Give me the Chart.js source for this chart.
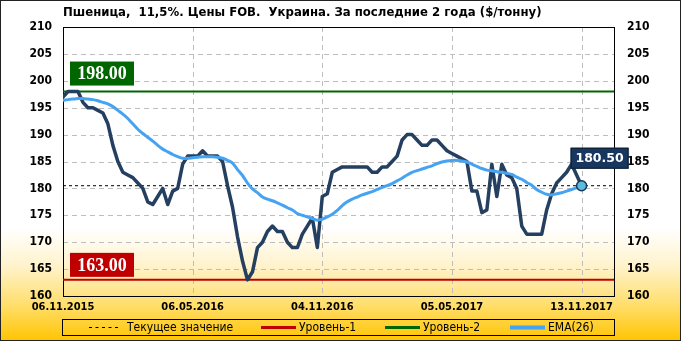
<!DOCTYPE html>
<html><head><meta charset="utf-8">
<script src="https://cdn.jsdelivr.net/npm/chart.js@4.4.1/dist/chart.umd.min.js"></script>
<style>html,body{margin:0;padding:0;background:#fff}#wrap{width:681px;height:341px;position:relative}canvas{display:block}</style>
</head><body><div id="wrap"><canvas id="c" width="681" height="341"></canvas></div>
<script>
const titleText = 'Пшеница,  11,5%. Цены FOB.  Украина. За последние 2 года ($/тонну)';
const dateLabels = ['06.11.2015', '06.05.2016', '04.11.2016', '05.05.2017', '13.11.2017'];
const dateLabelIndex = [0, 26, 52, 78, 104];
const price = [
  197, 198, 198, 198, 196, 195, 195, 194.5, 194, 192,
  188, 185, 183, 182.5, 182, 181, 180, 177.5, 177, 178.5,
  180, 177, 179.5, 180, 184.5, 186, 186, 186, 187, 186,
  186, 186, 185, 180.5, 176.5, 171, 166.5, 163, 164.5, 169,
  170, 172, 173, 172, 172, 170, 169, 169, 171.5, 173,
  174.5, 169, 178.5, 179, 183, 183.5, 184, 184, 184, 184,
  184, 184, 183, 183, 184, 184, 185, 186, 189, 190,
  190, 189, 188, 188, 189, 189, 188, 187, 186.5, 186,
  185.5, 185, 179.5, 179.5, 175.5, 176, 184.5, 178.5, 184.5, 182.5,
  182, 180, 173, 171.5, 171.5, 171.5, 171.5, 176, 179, 181,
  182, 183, 184.5, 182.5, 180.5
];
const ema26 = [
  196.4, 196.5, 196.6, 196.7, 196.7, 196.6, 196.5, 196.3, 196.0, 195.7,
  195.2, 194.5, 193.8, 193.0, 192.0, 191.0, 190.2, 189.5, 188.8, 188.0,
  187.3, 186.8, 186.3, 185.9, 185.6, 185.6, 185.7, 185.8, 185.9, 185.9,
  185.9, 185.8, 185.6, 185.2, 184.7, 183.5, 182.4, 181.0, 179.9, 179.2,
  178.4, 178.0, 177.7, 177.3, 176.9, 176.4, 176.0, 175.3, 175.0, 174.7,
  174.4, 174.1, 174.3, 174.7, 175.2, 175.9, 176.8, 177.5, 178.0, 178.4,
  178.8, 179.1, 179.4, 179.8, 180.2, 180.5, 180.9, 181.4, 181.9, 182.5,
  183.0, 183.3, 183.6, 183.9, 184.2, 184.6, 184.9, 185.1, 185.2, 185.2,
  185.1, 184.9, 184.5, 184.1, 183.7, 183.4, 183.3, 183.1, 183.0, 182.8,
  182.6, 182.1, 181.7, 181.1, 180.6, 179.8, 179.3, 178.9, 178.8, 179.0,
  179.2, 179.5, 179.8, 180.1, 180.4
];
const currentValue = 180.5;
const level1 = 163;
const level2 = 198;
const yMin = 160, yMax = 210, yStep = 5;
const xMaxSlot = 110.5;
const legendLabels = ['Текущее значение', 'Уровень-1', 'Уровень-2', 'EMA(26)'];

const C_PRICE = '#243F60', C_EMA = '#45A3F2', C_RED = '#C00000', C_GREEN = '#006600';
const FONT = '"DejaVu Sans Condensed", "DejaVu Sans", sans-serif';

const pricePts = price.map((v, i) => ({x: i, y: v}));
const emaPts = ema26.map((v, i) => ({x: i, y: v}));
const flat = v => [{x: 0, y: v}, {x: xMaxSlot, y: v}];
const lastIdx = price.length - 1;

const bgPlugin = {
  id: 'bg',
  beforeDraw(chart) {
    const {ctx, width, height} = chart;
    ctx.save();
    const g = ctx.createLinearGradient(0, 0, 0, height);
    g.addColorStop(0, '#FFFFFF');
    g.addColorStop(0.67, '#FFFFFF');
    g.addColorStop(0.78, '#FFF3CC');
    g.addColorStop(0.9, '#FFDD66');
    g.addColorStop(1, '#FFC400');
    ctx.fillStyle = g;
    ctx.fillRect(0, 0, width, height);
    ctx.strokeStyle = '#222';
    ctx.lineWidth = 1;
    ctx.strokeRect(0.5, 0.5, width - 1, height - 1);
    ctx.restore();
  },
  beforeDatasetsDraw(chart) {
    const {ctx, chartArea: a, scales} = chart;
    ctx.save();
    // dashed grid from the library's scale ticks
    ctx.strokeStyle = '#BDBDBD';
    ctx.lineWidth = 1;
    ctx.setLineDash([5, 4]);
    scales.y.ticks.forEach(t => {
      const py = Math.round(scales.y.getPixelForValue(t.value)) + 0.5;
      ctx.beginPath(); ctx.moveTo(a.left, py); ctx.lineTo(a.right, py); ctx.stroke();
    });
    scales.x.ticks.forEach(t => {
      const px = Math.round(scales.x.getPixelForValue(t.value)) + 0.5;
      ctx.beginPath(); ctx.moveTo(px, a.top); ctx.lineTo(px, a.bottom); ctx.stroke();
    });
    ctx.setLineDash([]);
    ctx.strokeStyle = '#000';
    ctx.strokeRect(Math.round(a.left) + 0.5, Math.round(a.top) + 0.5, Math.round(a.right - a.left), Math.round(a.bottom - a.top));
    ctx.restore();
  },
  afterDatasetsDraw(chart) {
    const {ctx, chartArea: a, scales} = chart;
    const ys = scales.y, xs = scales.x;
    ctx.save();
    const box = (val, fill, off) => {
      const py = ys.getPixelForValue(val);
      ctx.font = 'bold 18px "Liberation Serif", serif';
      const t = val.toFixed(2);
      const w = 64, h = 24;
      const bx = a.left + 7, by = py - off - h;
      ctx.fillStyle = fill;
      ctx.fillRect(bx, by, w, h);
      ctx.fillStyle = '#fff';
      ctx.textAlign = 'center';
      ctx.textBaseline = 'middle';
      ctx.fillText(t, bx + w / 2, by + h / 2 + 1);
    };
    box(level2, C_GREEN, 6);
    box(level1, C_RED, 3);
    const px = xs.getPixelForValue(lastIdx), py = ys.getPixelForValue(price[lastIdx]);
    const bx = px - 11, by = py - 38, w = 58, h = 21;
    ctx.fillStyle = '#17375E';
    ctx.fillRect(bx, by, w, h);
    ctx.strokeStyle = '#0B1A2E';
    ctx.lineWidth = 1;
    ctx.strokeRect(bx + 0.5, by + 0.5, w - 1, h - 1);
    ctx.fillStyle = '#fff';
    ctx.font = 'bold 12.5px "DejaVu Sans", sans-serif';
    ctx.textAlign = 'center';
    ctx.textBaseline = 'middle';
    ctx.fillText(price[lastIdx].toFixed(2), bx + w / 2, by + h / 2 + 1);
    ctx.restore();
  },
  afterDraw(chart) {
    const {ctx} = chart;
    ctx.save();
    ctx.fillStyle = '#000';
    ctx.font = 'bold 13px ' + FONT;
    ctx.textAlign = 'left';
    ctx.textBaseline = 'middle';
    ctx.fillText(titleText, 63, 13);
    ctx.strokeStyle = '#000';
    ctx.lineWidth = 1;
    ctx.strokeRect(62.5, 319.5, 552, 16);
    const ly = 327.5;
    const item = (x1, x2, color, lw, dash, text, tx) => {
      ctx.beginPath();
      ctx.setLineDash(dash);
      ctx.strokeStyle = color;
      ctx.lineWidth = lw;
      ctx.moveTo(x1, ly); ctx.lineTo(x2, ly); ctx.stroke();
      ctx.setLineDash([]);
      ctx.fillStyle = '#000';
      ctx.font = '12px ' + FONT;
      ctx.fillText(text, tx, ly);
    };
    item(89, 121, '#000', 1, [3, 3.5], legendLabels[0], 127);
    item(261, 296, C_RED, 3, [], legendLabels[1], 299);
    item(385, 420, C_GREEN, 3, [], legendLabels[2], 423);
    item(510, 545, C_EMA, 4, [], legendLabels[3], 548);
    ctx.restore();
  }
};

new Chart(document.getElementById('c'), {
  type: 'line',
  data: {
    datasets: [
      {label: 'marker', data: [pricePts[lastIdx]], showLine: false, pointRadius: 5, pointBackgroundColor: '#5BBBD8', pointBorderColor: '#17375E', pointBorderWidth: 1.5, order: 0},
      {label: 'EMA(26)', data: emaPts, borderColor: C_EMA, borderWidth: 3, pointRadius: 0, tension: 0.3, order: 1, borderJoinStyle: 'round', borderCapStyle: 'round'},
      {label: 'Цена', data: pricePts, borderColor: C_PRICE, borderWidth: 3.5, pointRadius: 0, tension: 0, order: 2, borderJoinStyle: 'round', borderCapStyle: 'round'},
      {label: legendLabels[0], data: flat(currentValue), borderColor: '#000', borderWidth: 1, borderDash: [3, 3], pointRadius: 0, order: 3},
      {label: legendLabels[1], data: flat(level1), borderColor: C_RED, borderWidth: 2, pointRadius: 0, order: 4},
      {label: legendLabels[2], data: flat(level2), borderColor: C_GREEN, borderWidth: 2, pointRadius: 0, order: 5}
    ]
  },
  options: {
    responsive: false,
    animation: false,
    events: [],
    layout: {padding: {top: 27, left: 0, right: 0, bottom: 0}},
    plugins: {legend: {display: false}, title: {display: false}, tooltip: {enabled: false}},
    scales: {
      x: {
        type: 'linear', min: 0, max: xMaxSlot,
        afterBuildTicks(axis) { axis.ticks = dateLabelIndex.map(v => ({value: v})); },
        afterFit(axis) { axis.height = 45; },
        ticks: {
          autoSkip: false, maxRotation: 0, padding: 5, color: '#000',
          font: {family: FONT, size: 11, weight: 'bold'},
          callback(v) { const k = dateLabelIndex.indexOf(v); return k >= 0 ? dateLabels[k] : ''; }
        },
        grid: {display: false, drawTicks: false},
        border: {display: false}
      },
      y: {
        position: 'left', min: yMin, max: yMax,
        afterFit(axis) { axis.width = 63; },
        ticks: {stepSize: yStep, padding: 11, color: '#000', font: {family: FONT, size: 12, weight: 'bold'}},
        grid: {display: false, drawTicks: false},
        border: {display: false}
      },
      y2: {
        position: 'right', min: yMin, max: yMax,
        afterFit(axis) { axis.width = 67; },
        ticks: {stepSize: yStep, padding: 13, color: '#000', font: {family: FONT, size: 12, weight: 'bold'}},
        grid: {display: false, drawTicks: false},
        border: {display: false}
      }
    }
  },
  plugins: [bgPlugin]
});
</script>
</body></html>
